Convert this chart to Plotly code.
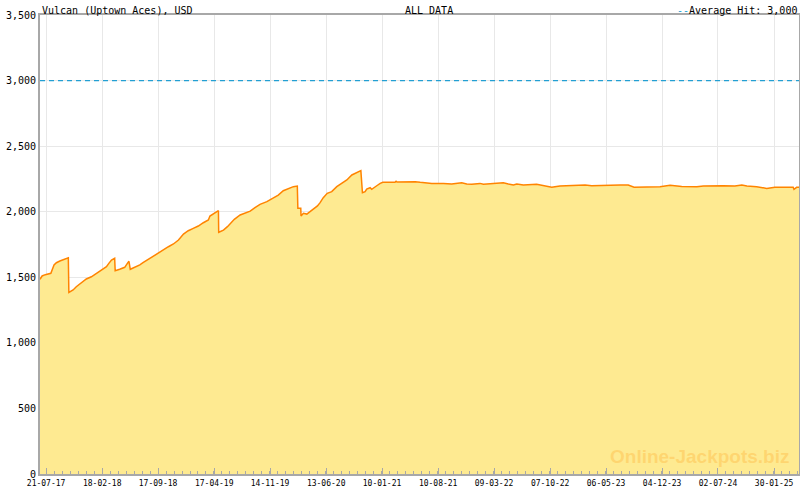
import pandas as pd
import plotly.graph_objects as go

dates = [
    "2017-06-28", "2017-07-06", "2017-07-18", "2017-08-08", "2017-08-20", "2017-08-29",
    "2017-09-11", "2017-09-23", "2017-10-13", "2017-10-15", "2017-10-31", "2017-11-12",
    "2017-11-25", "2017-12-08", "2017-12-20", "2018-01-08", "2018-01-27", "2018-02-15",
    "2018-03-06", "2018-03-15", "2018-03-25", "2018-04-06", "2018-04-08", "2018-04-25",
    "2018-05-14", "2018-05-24", "2018-05-30", "2018-06-04", "2018-06-21", "2018-07-10",
    "2018-07-22", "2018-08-04", "2018-08-18", "2018-09-06", "2018-09-18", "2018-10-07",
    "2018-10-26", "2018-11-14", "2018-12-03", "2018-12-22", "2019-01-09", "2019-01-28",
    "2019-02-16", "2019-03-07", "2019-03-26", "2019-04-01", "2019-04-17", "2019-05-03",
    "2019-05-04", "2019-05-22", "2019-06-06", "2019-06-16", "2019-07-02", "2019-07-24",
    "2019-08-12", "2019-08-31", "2019-09-18", "2019-10-07", "2019-11-02", "2019-11-20",
    "2019-12-15", "2020-01-03", "2020-01-22", "2020-02-10", "2020-02-25", "2020-02-27",
    "2020-03-09", "2020-03-10", "2020-03-19", "2020-04-01", "2020-04-13", "2020-04-28",
    "2020-05-11", "2020-05-21", "2020-06-02", "2020-06-17", "2020-07-04", "2020-07-23",
    "2020-08-11", "2020-08-30", "2020-09-18", "2020-10-07", "2020-10-22", "2020-10-28",
    "2020-11-07", "2020-11-13", "2020-11-26", "2020-12-02", "2020-12-11", "2020-12-21",
    "2021-01-03", "2021-01-13", "2021-02-28", "2021-03-04", "2021-03-08", "2021-05-15",
    "2021-06-03", "2021-07-17", "2021-08-30", "2021-09-30", "2021-11-07", "2021-11-26",
    "2021-12-15", "2022-01-15", "2022-01-28", "2022-03-06", "2022-04-13", "2022-05-02",
    "2022-05-21", "2022-06-03", "2022-06-28", "2022-08-17", "2022-08-30", "2022-09-24",
    "2022-10-13", "2022-10-25", "2022-11-13", "2023-02-16", "2023-03-13", "2023-06-28",
    "2023-07-29", "2023-08-20", "2023-11-26", "2024-01-03", "2024-02-16", "2024-04-13",
    "2024-05-08", "2024-07-22", "2024-09-04", "2024-09-30", "2024-10-19", "2024-11-25",
    "2025-01-02", "2025-02-02", "2025-04-12", "2025-04-15", "2025-04-25", "2025-05-04",
]
values = [
    1485, 1510, 1520, 1530, 1594, 1611,
    1624, 1632, 1649, 1385, 1403, 1428,
    1449, 1466, 1487, 1504, 1530, 1555,
    1581, 1606, 1632, 1645, 1550, 1561,
    1576, 1606, 1622, 1561, 1576, 1594,
    1611, 1628, 1645, 1670, 1690, 1713,
    1733, 1754, 1784, 1830, 1855, 1873,
    1891, 1916, 1937, 1967, 1988, 2008,
    1843, 1860, 1886, 1906, 1942, 1975,
    1988, 2004, 2031, 2056, 2077, 2097,
    2127, 2160, 2176, 2191, 2196, 2026,
    2026, 1967, 1988, 1982, 2000, 2021,
    2044, 2069, 2107, 2140, 2153, 2191,
    2216, 2242, 2280, 2297, 2313, 2145,
    2153, 2173, 2183, 2171, 2186, 2198,
    2216, 2224, 2224, 2232, 2226, 2229,
    2224, 2216, 2216, 2211, 2221, 2211,
    2209, 2216, 2209, 2216, 2221, 2211,
    2204, 2211, 2204, 2209, 2204, 2196,
    2186, 2191, 2196, 2204, 2198, 2204,
    2204, 2186, 2191, 2201, 2193, 2191,
    2196, 2198, 2196, 2204, 2196, 2191,
    2178, 2186, 2186, 2171, 2186, 2186,
]
average_hit = 3000
tick_labels = ["21-07-17", "18-02-18", "17-09-18", "17-04-19", "14-11-19", "13-06-20",
               "10-01-21", "10-08-21", "09-03-22", "07-10-22", "06-05-23", "04-12-23",
               "02-07-24", "30-01-25"]
y_ticks = [0, 500, 1000, 1500, 2000, 2500, 3000, 3500]

tick_dates = [pd.to_datetime(t, format="%d-%m-%y").strftime("%Y-%m-%d") for t in tick_labels]
x_range = ["2017-06-28", "2025-05-04"]

MONO = "DejaVu Sans Mono"
fig = go.Figure()
fig.add_trace(go.Scatter(
    x=dates, y=values, mode="lines", line=dict(color="#FF8400", width=1.5, shape="linear"),
    fill="tozeroy", fillcolor="#FEEA91", name="Jackpot", showlegend=False,
    hoverinfo="x+y"))
fig.add_trace(go.Scatter(
    x=x_range, y=[average_hit, average_hit], mode="lines",
    line=dict(color="#229FD3", width=1.2, dash="5px,4px"),
    name="Average Hit: 3,000", showlegend=False))

fig.update_layout(
    width=800, height=490,
    margin=dict(l=40, r=1, t=15, b=16, autoexpand=False),
    paper_bgcolor="white", plot_bgcolor="white",
    font=dict(family=MONO, size=10, color="#111"),
)
fig.update_xaxes(
    type="date", range=x_range, tickmode="array", tickvals=tick_dates, ticktext=tick_labels,
    showgrid=True, gridcolor="#E8E8E8", gridwidth=1,
    ticks="inside", ticklen=6, tickcolor="#A8A8A8", tickwidth=1,
    showline=True, linecolor="#A8A8A8", linewidth=2, mirror=True,
    tickfont=dict(family=MONO, size=8, color="#000"),
    minor=dict(tickmode="linear", tick0="2017-07-21", dtick=30.2 * 86400000,
               ticks="inside", ticklen=3, tickcolor="#A8A8A8", showgrid=False),
    zeroline=False, automargin=False, ticklabelstandoff=0,
)
fig.update_yaxes(
    range=[0, 3500], tickmode="array", tickvals=y_ticks, tickformat=",",
    showgrid=True, gridcolor="#E8E8E8", gridwidth=1, ticks="",
    showline=True, linecolor="#A8A8A8", linewidth=2, mirror=True,
    tickfont=dict(family=MONO, size=10, color="#000"), zeroline=False, automargin=False,
)

fig.add_annotation(text="Vulcan (Uptown Aces), USD", xref="paper", yref="paper",
                   x=0, y=1, xanchor="left", yanchor="bottom", showarrow=False,
                   font=dict(family=MONO, size=10, color="#000"), yshift=-3)
fig.add_annotation(text="ALL DATA", xref="paper", yref="paper",
                   x=0.513, y=1, xanchor="center", yanchor="bottom", showarrow=False,
                   font=dict(family=MONO, size=10, color="#000"), yshift=-3)
fig.add_annotation(text="<span style='color:#229FD3'>--</span>Average Hit: 3,000",
                   xref="paper", yref="paper", x=1, y=1, xanchor="right", yanchor="bottom",
                   showarrow=False, font=dict(family=MONO, size=10, color="#000"), yshift=-3)
fig.add_annotation(text="<b>Online-Jackpots.biz</b>", xref="paper", yref="paper",
                   x=0.99, y=0.01, xanchor="right", yanchor="bottom", showarrow=False,
                   font=dict(family="Liberation Sans", size=19, color="rgba(255,200,90,0.6)"))

fig.write_html("out.html", config={"displayModeBar": False},
               post_script="document.body.style.margin='0';")
